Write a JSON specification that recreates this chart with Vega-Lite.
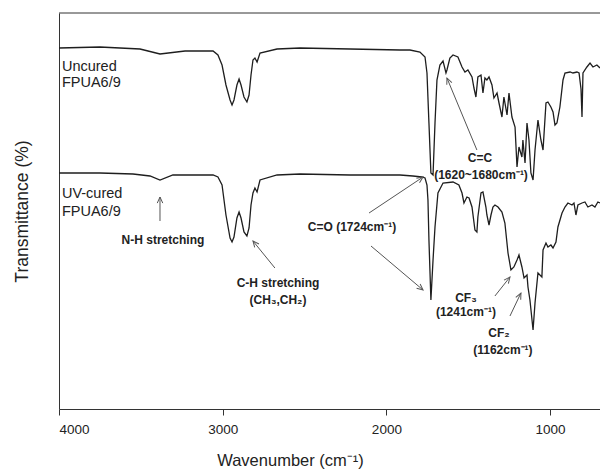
{
  "$schema": "https://vega.github.io/schema/vega-lite/v6.json",
  "autosize": "none",
  "width": 541,
  "height": 396,
  "padding": {"left": 59, "top": 13, "right": 0, "bottom": 65},
  "background": "white",
  "config": {
    "view": {"stroke": null},
    "font": "Liberation Sans",
    "axis": {"grid": false, "domainColor": "#333", "tickColor": "#333", "labelColor": "#222", "titleColor": "#222", "labelFont": "Liberation Sans", "titleFont": "Liberation Sans", "titleFontWeight": "normal"}
  },
  "datasets": {
    "spectra": [
      {"series": "Uncured", "wavenumber": 4000, "transmittance": 90.25},
      {"series": "Uncured", "wavenumber": 3750, "transmittance": 90.5},
      {"series": "Uncured", "wavenumber": 3505, "transmittance": 90},
      {"series": "Uncured", "wavenumber": 3383, "transmittance": 88.75},
      {"series": "Uncured", "wavenumber": 3230, "transmittance": 89.5},
      {"series": "Uncured", "wavenumber": 3059, "transmittance": 89.5},
      {"series": "Uncured", "wavenumber": 3029, "transmittance": 88.5},
      {"series": "Uncured", "wavenumber": 3004, "transmittance": 86},
      {"series": "Uncured", "wavenumber": 2980, "transmittance": 81},
      {"series": "Uncured", "wavenumber": 2955, "transmittance": 77.25},
      {"series": "Uncured", "wavenumber": 2943, "transmittance": 76},
      {"series": "Uncured", "wavenumber": 2931, "transmittance": 77.25},
      {"series": "Uncured", "wavenumber": 2913, "transmittance": 81},
      {"series": "Uncured", "wavenumber": 2900, "transmittance": 82.5},
      {"series": "Uncured", "wavenumber": 2888, "transmittance": 81},
      {"series": "Uncured", "wavenumber": 2870, "transmittance": 78},
      {"series": "Uncured", "wavenumber": 2852, "transmittance": 76.75},
      {"series": "Uncured", "wavenumber": 2839, "transmittance": 78.5},
      {"series": "Uncured", "wavenumber": 2827, "transmittance": 83.5},
      {"series": "Uncured", "wavenumber": 2815, "transmittance": 87.25},
      {"series": "Uncured", "wavenumber": 2803, "transmittance": 87.75},
      {"series": "Uncured", "wavenumber": 2790, "transmittance": 86.75},
      {"series": "Uncured", "wavenumber": 2772, "transmittance": 89},
      {"series": "Uncured", "wavenumber": 2668, "transmittance": 90},
      {"series": "Uncured", "wavenumber": 2528, "transmittance": 90.25},
      {"series": "Uncured", "wavenumber": 2222, "transmittance": 90},
      {"series": "Uncured", "wavenumber": 1917, "transmittance": 89.75},
      {"series": "Uncured", "wavenumber": 1856, "transmittance": 89.75},
      {"series": "Uncured", "wavenumber": 1795, "transmittance": 89.25},
      {"series": "Uncured", "wavenumber": 1764, "transmittance": 88},
      {"series": "Uncured", "wavenumber": 1752, "transmittance": 84},
      {"series": "Uncured", "wavenumber": 1740, "transmittance": 71.5},
      {"series": "Uncured", "wavenumber": 1728, "transmittance": 59},
      {"series": "Uncured", "wavenumber": 1715, "transmittance": 58.5},
      {"series": "Uncured", "wavenumber": 1703, "transmittance": 71.5},
      {"series": "Uncured", "wavenumber": 1691, "transmittance": 82.25},
      {"series": "Uncured", "wavenumber": 1673, "transmittance": 86},
      {"series": "Uncured", "wavenumber": 1654, "transmittance": 87},
      {"series": "Uncured", "wavenumber": 1636, "transmittance": 84},
      {"series": "Uncured", "wavenumber": 1630, "transmittance": 84.75},
      {"series": "Uncured", "wavenumber": 1612, "transmittance": 87.75},
      {"series": "Uncured", "wavenumber": 1593, "transmittance": 88.5},
      {"series": "Uncured", "wavenumber": 1563, "transmittance": 88},
      {"series": "Uncured", "wavenumber": 1538, "transmittance": 85.5},
      {"series": "Uncured", "wavenumber": 1520, "transmittance": 84.25},
      {"series": "Uncured", "wavenumber": 1502, "transmittance": 84.75},
      {"series": "Uncured", "wavenumber": 1477, "transmittance": 83},
      {"series": "Uncured", "wavenumber": 1465, "transmittance": 80.25},
      {"series": "Uncured", "wavenumber": 1453, "transmittance": 78},
      {"series": "Uncured", "wavenumber": 1441, "transmittance": 83},
      {"series": "Uncured", "wavenumber": 1422, "transmittance": 83.5},
      {"series": "Uncured", "wavenumber": 1410, "transmittance": 79},
      {"series": "Uncured", "wavenumber": 1398, "transmittance": 82.75},
      {"series": "Uncured", "wavenumber": 1386, "transmittance": 82.25},
      {"series": "Uncured", "wavenumber": 1373, "transmittance": 83},
      {"series": "Uncured", "wavenumber": 1355, "transmittance": 81},
      {"series": "Uncured", "wavenumber": 1343, "transmittance": 77.75},
      {"series": "Uncured", "wavenumber": 1324, "transmittance": 79},
      {"series": "Uncured", "wavenumber": 1312, "transmittance": 76.5},
      {"series": "Uncured", "wavenumber": 1294, "transmittance": 73},
      {"series": "Uncured", "wavenumber": 1282, "transmittance": 78},
      {"series": "Uncured", "wavenumber": 1263, "transmittance": 73.5},
      {"series": "Uncured", "wavenumber": 1251, "transmittance": 79},
      {"series": "Uncured", "wavenumber": 1233, "transmittance": 73},
      {"series": "Uncured", "wavenumber": 1214, "transmittance": 70.5},
      {"series": "Uncured", "wavenumber": 1202, "transmittance": 60.5},
      {"series": "Uncured", "wavenumber": 1190, "transmittance": 65.5},
      {"series": "Uncured", "wavenumber": 1172, "transmittance": 63},
      {"series": "Uncured", "wavenumber": 1166, "transmittance": 67.25},
      {"series": "Uncured", "wavenumber": 1153, "transmittance": 61.5},
      {"series": "Uncured", "wavenumber": 1141, "transmittance": 71.5},
      {"series": "Uncured", "wavenumber": 1129, "transmittance": 67.25},
      {"series": "Uncured", "wavenumber": 1117, "transmittance": 59},
      {"series": "Uncured", "wavenumber": 1104, "transmittance": 57.25},
      {"series": "Uncured", "wavenumber": 1092, "transmittance": 64.75},
      {"series": "Uncured", "wavenumber": 1074, "transmittance": 72.25},
      {"series": "Uncured", "wavenumber": 1056, "transmittance": 67.25},
      {"series": "Uncured", "wavenumber": 1043, "transmittance": 64.75},
      {"series": "Uncured", "wavenumber": 1025, "transmittance": 76.5},
      {"series": "Uncured", "wavenumber": 1013, "transmittance": 76.75},
      {"series": "Uncured", "wavenumber": 995, "transmittance": 75.5},
      {"series": "Uncured", "wavenumber": 982, "transmittance": 74.25},
      {"series": "Uncured", "wavenumber": 970, "transmittance": 71},
      {"series": "Uncured", "wavenumber": 958, "transmittance": 71.5},
      {"series": "Uncured", "wavenumber": 940, "transmittance": 75.5},
      {"series": "Uncured", "wavenumber": 921, "transmittance": 82.25},
      {"series": "Uncured", "wavenumber": 909, "transmittance": 84},
      {"series": "Uncured", "wavenumber": 878, "transmittance": 84.25},
      {"series": "Uncured", "wavenumber": 860, "transmittance": 84},
      {"series": "Uncured", "wavenumber": 836, "transmittance": 84.25},
      {"series": "Uncured", "wavenumber": 823, "transmittance": 84},
      {"series": "Uncured", "wavenumber": 811, "transmittance": 80},
      {"series": "Uncured", "wavenumber": 805, "transmittance": 73},
      {"series": "Uncured", "wavenumber": 799, "transmittance": 84},
      {"series": "Uncured", "wavenumber": 775, "transmittance": 85.5},
      {"series": "Uncured", "wavenumber": 756, "transmittance": 86.5},
      {"series": "Uncured", "wavenumber": 738, "transmittance": 85.5},
      {"series": "Uncured", "wavenumber": 714, "transmittance": 86},
      {"series": "Uncured", "wavenumber": 695, "transmittance": 85.25},
      {"series": "UV-cured", "wavenumber": 4000, "transmittance": 59},
      {"series": "UV-cured", "wavenumber": 3750, "transmittance": 59},
      {"series": "UV-cured", "wavenumber": 3548, "transmittance": 58.75},
      {"series": "UV-cured", "wavenumber": 3444, "transmittance": 58.25},
      {"series": "UV-cured", "wavenumber": 3383, "transmittance": 57.25},
      {"series": "UV-cured", "wavenumber": 3304, "transmittance": 58.5},
      {"series": "UV-cured", "wavenumber": 3059, "transmittance": 58.5},
      {"series": "UV-cured", "wavenumber": 3029, "transmittance": 58},
      {"series": "UV-cured", "wavenumber": 3004, "transmittance": 56},
      {"series": "UV-cured", "wavenumber": 2980, "transmittance": 48.5},
      {"series": "UV-cured", "wavenumber": 2955, "transmittance": 42.75},
      {"series": "UV-cured", "wavenumber": 2943, "transmittance": 41.75},
      {"series": "UV-cured", "wavenumber": 2931, "transmittance": 43},
      {"series": "UV-cured", "wavenumber": 2913, "transmittance": 47.75},
      {"series": "UV-cured", "wavenumber": 2900, "transmittance": 49.25},
      {"series": "UV-cured", "wavenumber": 2888, "transmittance": 47.75},
      {"series": "UV-cured", "wavenumber": 2870, "transmittance": 44.25},
      {"series": "UV-cured", "wavenumber": 2852, "transmittance": 43.25},
      {"series": "UV-cured", "wavenumber": 2839, "transmittance": 45.25},
      {"series": "UV-cured", "wavenumber": 2827, "transmittance": 51},
      {"series": "UV-cured", "wavenumber": 2815, "transmittance": 54},
      {"series": "UV-cured", "wavenumber": 2803, "transmittance": 55.25},
      {"series": "UV-cured", "wavenumber": 2790, "transmittance": 54.25},
      {"series": "UV-cured", "wavenumber": 2772, "transmittance": 57.25},
      {"series": "UV-cured", "wavenumber": 2668, "transmittance": 58.5},
      {"series": "UV-cured", "wavenumber": 2528, "transmittance": 58.75},
      {"series": "UV-cured", "wavenumber": 2222, "transmittance": 58.5},
      {"series": "UV-cured", "wavenumber": 1917, "transmittance": 58.5},
      {"series": "UV-cured", "wavenumber": 1838, "transmittance": 58.25},
      {"series": "UV-cured", "wavenumber": 1783, "transmittance": 58},
      {"series": "UV-cured", "wavenumber": 1764, "transmittance": 57.75},
      {"series": "UV-cured", "wavenumber": 1752, "transmittance": 56},
      {"series": "UV-cured", "wavenumber": 1746, "transmittance": 52.25},
      {"series": "UV-cured", "wavenumber": 1740, "transmittance": 42.25},
      {"series": "UV-cured", "wavenumber": 1728, "transmittance": 27.25},
      {"series": "UV-cured", "wavenumber": 1715, "transmittance": 37.25},
      {"series": "UV-cured", "wavenumber": 1703, "transmittance": 45.5},
      {"series": "UV-cured", "wavenumber": 1685, "transmittance": 54},
      {"series": "UV-cured", "wavenumber": 1654, "transmittance": 56.5},
      {"series": "UV-cured", "wavenumber": 1593, "transmittance": 56.75},
      {"series": "UV-cured", "wavenumber": 1557, "transmittance": 56},
      {"series": "UV-cured", "wavenumber": 1538, "transmittance": 54},
      {"series": "UV-cured", "wavenumber": 1526, "transmittance": 51.5},
      {"series": "UV-cured", "wavenumber": 1508, "transmittance": 53},
      {"series": "UV-cured", "wavenumber": 1495, "transmittance": 52.75},
      {"series": "UV-cured", "wavenumber": 1477, "transmittance": 50.5},
      {"series": "UV-cured", "wavenumber": 1459, "transmittance": 44.75},
      {"series": "UV-cured", "wavenumber": 1447, "transmittance": 44.25},
      {"series": "UV-cured", "wavenumber": 1441, "transmittance": 48},
      {"series": "UV-cured", "wavenumber": 1422, "transmittance": 54},
      {"series": "UV-cured", "wavenumber": 1410, "transmittance": 54.25},
      {"series": "UV-cured", "wavenumber": 1392, "transmittance": 50.5},
      {"series": "UV-cured", "wavenumber": 1386, "transmittance": 48.5},
      {"series": "UV-cured", "wavenumber": 1373, "transmittance": 46},
      {"series": "UV-cured", "wavenumber": 1361, "transmittance": 48.5},
      {"series": "UV-cured", "wavenumber": 1349, "transmittance": 50.5},
      {"series": "UV-cured", "wavenumber": 1337, "transmittance": 51},
      {"series": "UV-cured", "wavenumber": 1318, "transmittance": 50.5},
      {"series": "UV-cured", "wavenumber": 1294, "transmittance": 49.25},
      {"series": "UV-cured", "wavenumber": 1276, "transmittance": 46.5},
      {"series": "UV-cured", "wavenumber": 1257, "transmittance": 39},
      {"series": "UV-cured", "wavenumber": 1239, "transmittance": 34.75},
      {"series": "UV-cured", "wavenumber": 1221, "transmittance": 35.5},
      {"series": "UV-cured", "wavenumber": 1202, "transmittance": 37.25},
      {"series": "UV-cured", "wavenumber": 1190, "transmittance": 38.5},
      {"series": "UV-cured", "wavenumber": 1172, "transmittance": 35.5},
      {"series": "UV-cured", "wavenumber": 1159, "transmittance": 32.75},
      {"series": "UV-cured", "wavenumber": 1141, "transmittance": 33.5},
      {"series": "UV-cured", "wavenumber": 1135, "transmittance": 30.5},
      {"series": "UV-cured", "wavenumber": 1123, "transmittance": 27.25},
      {"series": "UV-cured", "wavenumber": 1104, "transmittance": 19.75},
      {"series": "UV-cured", "wavenumber": 1092, "transmittance": 26.5},
      {"series": "UV-cured", "wavenumber": 1074, "transmittance": 34},
      {"series": "UV-cured", "wavenumber": 1050, "transmittance": 33},
      {"series": "UV-cured", "wavenumber": 1043, "transmittance": 39.75},
      {"series": "UV-cured", "wavenumber": 1025, "transmittance": 41.5},
      {"series": "UV-cured", "wavenumber": 1013, "transmittance": 40.5},
      {"series": "UV-cured", "wavenumber": 995, "transmittance": 41},
      {"series": "UV-cured", "wavenumber": 982, "transmittance": 40.25},
      {"series": "UV-cured", "wavenumber": 964, "transmittance": 41.75},
      {"series": "UV-cured", "wavenumber": 952, "transmittance": 45.5},
      {"series": "UV-cured", "wavenumber": 927, "transmittance": 49},
      {"series": "UV-cured", "wavenumber": 909, "transmittance": 50.5},
      {"series": "UV-cured", "wavenumber": 891, "transmittance": 51.5},
      {"series": "UV-cured", "wavenumber": 866, "transmittance": 51},
      {"series": "UV-cured", "wavenumber": 854, "transmittance": 51.5},
      {"series": "UV-cured", "wavenumber": 842, "transmittance": 48.5},
      {"series": "UV-cured", "wavenumber": 830, "transmittance": 51},
      {"series": "UV-cured", "wavenumber": 805, "transmittance": 51.5},
      {"series": "UV-cured", "wavenumber": 787, "transmittance": 51.75},
      {"series": "UV-cured", "wavenumber": 769, "transmittance": 50.5},
      {"series": "UV-cured", "wavenumber": 744, "transmittance": 51},
      {"series": "UV-cured", "wavenumber": 726, "transmittance": 50.5},
      {"series": "UV-cured", "wavenumber": 708, "transmittance": 51.75},
      {"series": "UV-cured", "wavenumber": 695, "transmittance": 51.5}
    ],
    "sampleLabels": [
      {"wavenumber": 3982, "transmittance": 85.5, "text": "Uncured"},
      {"wavenumber": 3982, "transmittance": 81.5, "text": "FPUA6/9"},
      {"wavenumber": 3982, "transmittance": 53.75, "text": "UV-cured"},
      {"wavenumber": 3982, "transmittance": 49.25, "text": "FPUA6/9"}
    ],
    "bandLabels": [
      {"wavenumber": 3365, "transmittance": 42.25, "text": "N-H stretching"},
      {"wavenumber": 2662, "transmittance": 31.5, "text": "C-H stretching"},
      {"wavenumber": 2662, "transmittance": 27.25, "text": "(CH₃,CH₂)"},
      {"wavenumber": 2210, "transmittance": 45.5, "text": "C=O (1724cm⁻¹)"},
      {"wavenumber": 1428, "transmittance": 62.75, "text": "C=C"},
      {"wavenumber": 1422, "transmittance": 58.5, "text": "(1620~1680cm⁻¹)"},
      {"wavenumber": 1514, "transmittance": 27.75, "text": "CF₃"},
      {"wavenumber": 1514, "transmittance": 24.25, "text": "(1241cm⁻¹)"},
      {"wavenumber": 1312, "transmittance": 19, "text": "CF₂"},
      {"wavenumber": 1288, "transmittance": 14.75, "text": "(1162cm⁻¹)"}
    ],
    "arrows": [
      {"w1": 3383, "t1": 47, "w2": 3383, "t2": 53, "angle": 0},
      {"w1": 2681, "t1": 35.25, "w2": 2815, "t2": 42, "angle": -39},
      {"w1": 2106, "t1": 49, "w2": 1776, "t2": 58, "angle": 56},
      {"w1": 2094, "t1": 40.75, "w2": 1776, "t2": 29.75, "angle": 130},
      {"w1": 1447, "t1": 64.75, "w2": 1630, "t2": 82.75, "angle": -23},
      {"w1": 1337, "t1": 28.25, "w2": 1245, "t2": 33, "angle": 38},
      {"w1": 1245, "t1": 23.25, "w2": 1178, "t2": 29, "angle": 26}
    ]
  },
  "layer": [
    {
      "data": {"name": "spectra"},
      "mark": {"type": "line", "color": "#1e1e1e", "strokeWidth": 1.3, "clip": true},
      "encoding": {
        "x": {"field": "wavenumber", "type": "quantitative",
          "scale": {"domain": [695, 4000], "reverse": true, "nice": false, "zero": false},
          "axis": {"values": [4000, 3000, 2000, 1000], "format": "d", "tickSize": 6, "labelFontSize": 13.5, "labelPadding": 7, "title": "Wavenumber (cm⁻¹)", "titleFontSize": 16.5, "titleX": 231, "titleY": 51, "titleAnchor": "middle", "titleBaseline": "middle"}},
        "y": {"field": "transmittance", "type": "quantitative",
          "scale": {"domain": [0, 99], "nice": false, "zero": false},
          "axis": {"ticks": false, "labels": false, "title": "Transmittance (%)", "titleFontSize": 17.5, "titlePadding": 28}},
        "detail": {"field": "series"}
      }
    },
    {
      "data": {"values": [{"top": 99}]},
      "mark": {"type": "rule", "color": "#333", "strokeWidth": 1},
      "encoding": {"y": {"field": "top", "type": "quantitative"}}
    },
    {
      "data": {"name": "arrows"},
      "mark": {"type": "rule", "color": "#555", "strokeWidth": 1},
      "encoding": {
        "x": {"field": "w1", "type": "quantitative"},
        "y": {"field": "t1", "type": "quantitative"},
        "x2": {"field": "w2"},
        "y2": {"field": "t2"}
      }
    },
    {
      "data": {"name": "arrows"},
      "mark": {"type": "point", "shape": "M-0.45,1L0,0L0.45,1", "filled": false, "color": "#555", "strokeWidth": 1, "size": 150, "opacity": 1},
      "encoding": {
        "x": {"field": "w2", "type": "quantitative"},
        "y": {"field": "t2", "type": "quantitative"},
        "angle": {"field": "angle", "type": "quantitative", "scale": null}
      }
    },
    {
      "data": {"name": "sampleLabels"},
      "mark": {"type": "text", "align": "left", "baseline": "middle", "font": "Liberation Sans", "fontSize": 14.5, "color": "#222"},
      "encoding": {
        "x": {"field": "wavenumber", "type": "quantitative"},
        "y": {"field": "transmittance", "type": "quantitative"},
        "text": {"field": "text"}
      }
    },
    {
      "data": {"name": "bandLabels"},
      "mark": {"type": "text", "align": "center", "baseline": "middle", "font": "Liberation Sans", "fontSize": 12, "fontWeight": "bold", "color": "#222"},
      "encoding": {
        "x": {"field": "wavenumber", "type": "quantitative"},
        "y": {"field": "transmittance", "type": "quantitative"},
        "text": {"field": "text"}
      }
    }
  ]
}
